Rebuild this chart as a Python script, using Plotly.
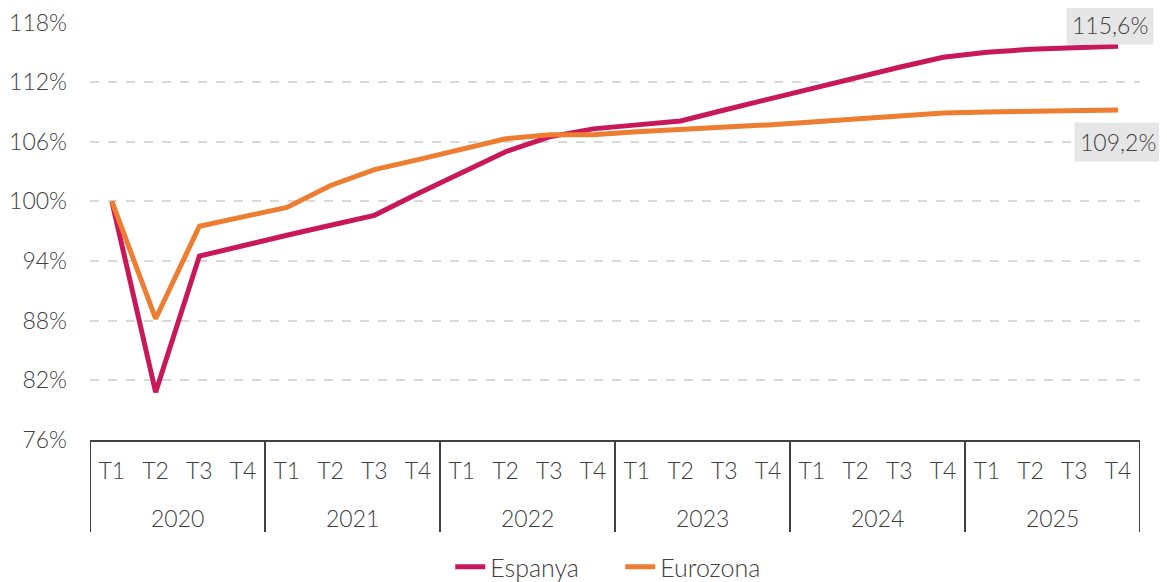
import plotly.graph_objects as go

# Dades: índex (T1 2020 = 100%)
anys = ["2020", "2021", "2022", "2023", "2024", "2025"]
trimestres = ["T1", "T2", "T3", "T4"]

espanya = [100.0, 80.8, 94.5, 95.6,
           96.6, 97.6, 98.6, 100.8,
           102.9, 105.0, 106.5, 107.3,
           107.7, 108.1, 109.2, 110.3,
           111.3, 112.4, 113.5, 114.5,
           115.0, 115.3, 115.5, 115.6]
eurozona = [100.0, 88.2, 97.5, 98.4,
            99.4, 101.6, 103.2, 104.2,
            105.2, 106.3, 106.7, 106.7,
            107.0, 107.2, 107.5, 107.7,
            108.0, 108.3, 108.6, 108.9,
            109.0, 109.1, 109.2, 109.2]

n = len(anys) * len(trimestres)
xs = list(range(n))
x_trim = [t for _ in anys for t in trimestres]

FONT = "Lato"
TXT = "#404040"
fnt = lambda s: dict(size=s, color=TXT, family=FONT, weight=300)

fig = go.Figure()
fig.add_trace(go.Scatter(x=xs, y=espanya, name="Espanya", mode="lines",
                         line=dict(color="#C8185A", width=5)))
fig.add_trace(go.Scatter(x=xs, y=eurozona, name="Eurozona", mode="lines",
                         line=dict(color="#ED7D31", width=5)))

def fmt(v):
    return f"{v:.1f}".replace(".", ",") + "%"

# etiquetes finals
fig.add_annotation(x=xs[-1], y=espanya[-1], text=fmt(espanya[-1]),
                   showarrow=False, xanchor="center", yanchor="middle", xshift=-8, yshift=21,
                   font=fnt(23), bgcolor="#E6E6E6", borderpad=5)
fig.add_annotation(x=xs[-1], y=eurozona[-1], text=fmt(eurozona[-1]),
                   showarrow=False, xanchor="center", yanchor="middle", xshift=0, yshift=-32,
                   font=fnt(23), bgcolor="#E6E6E6", borderpad=5)

# anys (segon nivell de l'eix) i separadors
for i, a in enumerate(anys):
    fig.add_annotation(x=i * 4 + 1.5, y=0, xref="x", yref="paper", text=a, showarrow=False,
                       yanchor="middle", yshift=-78, font=fnt(23))
for i in range(len(anys) + 1):
    fig.add_shape(type="line", xref="x", yref="paper", x0=i * 4 - 0.5, x1=i * 4 - 0.5,
                  y0=0, y1=-0.22, line=dict(color="#404040", width=2))

fig.update_xaxes(range=[-0.5, n - 0.5], tickmode="array", tickvals=xs, ticktext=x_trim,
                 showline=True, linecolor="#404040", linewidth=2, showgrid=False,
                 zeroline=False, ticks="", ticklabelstandoff=9, automargin=False,
                 tickfont=fnt(23))
fig.update_yaxes(range=[76, 118.05], tick0=76, dtick=6, ticksuffix="%",
                 showgrid=True, gridcolor="#D9D9D9", griddash="dash", gridwidth=2,
                 zeroline=False, showline=False, automargin=False,
                 ticklabeloverflow="allow", tickfont=fnt(23), ticklabelstandoff=22)

# la pàgina té 8 px de marge: la figura fa 1159x574
fig.update_layout(
    width=1159, height=574,
    margin=dict(l=82, r=27, t=14, b=142),
    plot_bgcolor="white", paper_bgcolor="white",
    font=dict(family=FONT, color=TXT),
    legend=dict(orientation="h", x=0.505, xanchor="center", yref="container", y=0.026,
                yanchor="middle", entrywidth=125, font=fnt(25)),
)

fig.write_html("out.html")
